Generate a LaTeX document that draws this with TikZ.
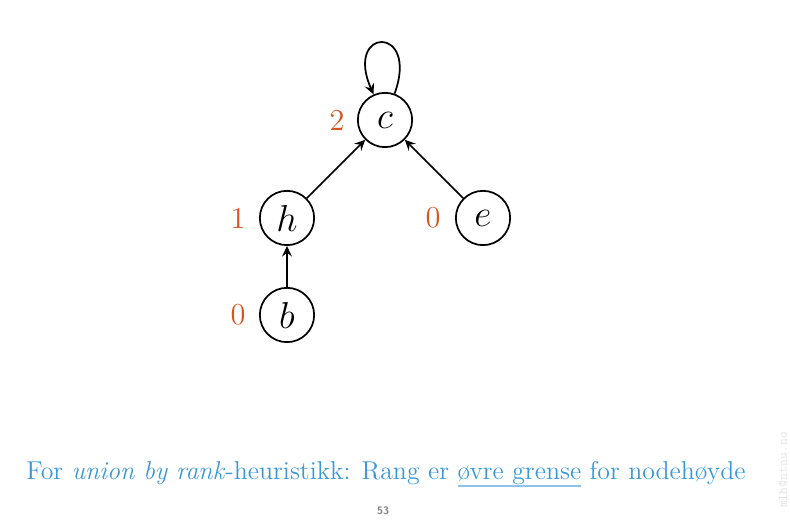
\documentclass[tikz,border=0pt]{standalone}
\usepackage{fontspec}
\usetikzlibrary{arrows.meta}
\definecolor{rankcol}{RGB}{217,84,30}
\definecolor{textcol}{RGB}{56,152,219}
\definecolor{linecol}{RGB}{140,195,235}
\newcommand\ulword[1]{\setbox0\hbox{#1}\rlap{\color{linecol}\rule[-3.4pt]{\wd0}{0.9pt}}\box0\relax}
\tikzset{
	vertex/.style={draw, circle, thick, minimum size=0.88cm, inner sep=0pt, font=\fontsize{19}{20}\selectfont},
	rank/.style={text=rankcol, font=\fontsize{14}{15}\selectfont},
	link/.style={thick, -{Stealth[length=1.7mm, width=1.6mm, inset=0.6mm]}}
}
\begin{document}
\begin{tikzpicture}[x=0.0162cm, y=-0.0162cm]
			\useasboundingbox (0, 0) rectangle (790, 521);
			% nodes
			\node[vertex] (c) at (385, 120) {$c$};
			\node[vertex] (h) at (287, 218) {$h$};
			\node[vertex] (e) at (483, 218) {$e$};
			\node[vertex] (b) at (287, 315) {$b$};
			% ranks
			\node[rank] (rc) at (337, 120) {2};
			\node[rank] (rh) at (238, 218) {1};
			\node[rank] (re) at (433, 218) {0};
			\node[rank] (rb) at (238, 315) {0};
			% parent pointers
			\draw[link] (c) to[out=70, in=114, looseness=9] (c);
			\draw[link] (h) -- (c);
			\draw[link] (e) -- (c);
			\draw[link] (b) -- (h);
			% caption
			\node[text=textcol, font=\fontsize{11.9}{14}\selectfont] (caption) at (386, 474)
				{For \textit{union by rank}-heuristikk: Rang er \ulword{øvre grense} for nodehøyde};
			\node[text=gray, font=\sffamily\bfseries\fontsize{5}{6}\selectfont] (page) at (383, 511) {53};
			\node[text=black!10, rotate=90, font=\ttfamily\fontsize{6}{7}\selectfont] (mail) at (783, 470) {mlh@ntnu.no};
		\end{tikzpicture}
\end{document}
